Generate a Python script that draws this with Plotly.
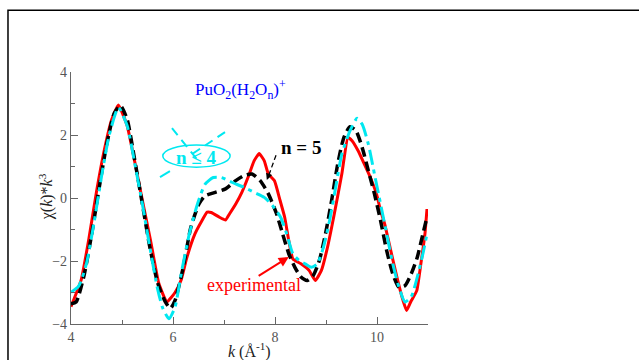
import plotly.graph_objects as go

# Experimental (red, solid)
k_exp = [4.0, 4.2, 4.35, 4.5, 4.65, 4.8, 4.93, 5.1, 5.25, 5.4, 5.56, 5.72, 5.88, 6.04, 6.16, 6.27,
         6.43, 6.55, 6.67, 6.75, 6.91, 7.03, 7.11, 7.23, 7.35, 7.47, 7.59, 7.69, 7.79, 7.87, 7.99,
         8.1, 8.19, 8.27, 8.35, 8.51, 8.67, 8.79, 8.91, 9.03, 9.15, 9.31, 9.43, 9.51, 9.63, 9.75,
         9.87, 9.99, 10.07, 10.15, 10.27, 10.39, 10.51, 10.58, 10.66, 10.78, 10.86, 10.94, 10.98]
chi_exp = [-3.45, -2.6, -1.3, 0.2, 1.5, 2.5, 2.95, 2.3, 1.15, -0.08, -1.35, -2.7, -3.3, -3.0, -2.6, -1.9,
           -1.14, -0.77, -0.45, -0.46, -0.61, -0.70, -0.5, -0.19, 0.18, 0.65, 1.18, 1.41, 1.18, 0.76, 0.55,
           -0.08, -0.61, -1.35, -1.93, -2.09, -2.3, -2.62, -2.3, -1.56, -0.61, 0.76, 1.92, 1.82, 1.5, 1.08,
           0.65, 0.13, -0.4, -0.82, -1.67, -2.51, -3.25, -3.57, -3.3, -2.94, -2.09, -1.14, -0.35]

# n = 5 (black, dashed)
k_n5 = [4.0, 4.1, 4.25, 4.4, 4.55, 4.7, 4.85, 4.97, 5.1, 5.25, 5.4, 5.55, 5.7, 5.85, 5.95, 6.04, 6.2,
        6.35, 6.51, 6.63, 6.83, 7.03, 7.23, 7.39, 7.55, 7.71, 7.87, 8.03, 8.15, 8.27, 8.39, 8.51,
        8.63, 8.75, 8.87, 8.99, 9.11, 9.23, 9.35, 9.47, 9.59, 9.71, 9.83, 9.95, 10.07, 10.19, 10.31,
        10.43, 10.55, 10.67, 10.79, 10.9, 10.98]
chi_n5 = [-3.36, -3.3, -2.5, -1.2, 0.3, 1.7, 2.7, 2.93, 2.5, 1.2, -0.2, -1.6, -2.7, -3.3, -3.5, -3.25, -2.2,
          -0.93, -0.19, 0.07, 0.18, 0.29, 0.55, 0.71, 0.76, 0.55, 0.13, -0.5, -1.14, -1.77, -2.2, -2.51,
          -2.62, -2.46, -1.98, -1.14, -0.08, 1.08, 1.92, 2.26, 2.13, 1.6, 0.87, 0.13, -0.72, -1.67, -2.41,
          -2.83, -2.78, -2.41, -1.88, -1.14, -0.61]

# n <= 4 (cyan, dash-dot)
k_n4 = [4.0, 4.15, 4.3, 4.45, 4.6, 4.75, 4.93, 5.1, 5.25, 5.4, 5.55, 5.7, 5.8, 5.92, 6.04, 6.16, 6.32,
        6.48, 6.63, 6.79, 6.95, 7.15, 7.39, 7.59, 7.79, 7.95, 8.11, 8.23, 8.35, 8.47, 8.59, 8.71,
        8.83, 8.95, 9.07, 9.19, 9.31, 9.47, 9.61, 9.71, 9.83, 9.95, 10.07, 10.19, 10.31, 10.43,
        10.55, 10.67, 10.79, 10.9, 10.98]
chi_n4 = [-2.99, -2.8, -2.1, -0.8, 0.7, 2.0, 2.87, 2.3, 1.1, -0.2, -1.6, -2.9, -3.5, -3.83, -3.46, -2.41, -1.14,
          -0.19, 0.44, 0.65, 0.65, 0.5, 0.34, 0.18, 0.02, -0.24, -0.61, -1.14, -1.77, -1.98, -2.09, -2.2,
          -2.09, -1.56, -0.72, 0.34, 1.39, 2.13, 2.53, 2.34, 1.71, 0.76, -0.19, -1.14, -2.09, -2.83,
          -3.3, -3.14, -2.51, -1.77, -1.14]

x_ticks = [4, 6, 8, 10]
y_ticks = [-4, -2, 0, 2, 4]

SERIF = "Liberation Serif, Times New Roman, serif"
CYAN = "#00e8f0"

fig = go.Figure()
fig.add_trace(go.Scatter(x=k_exp, y=chi_exp, mode="lines",
                         line=dict(color="#ff0000", width=3, shape="spline", smoothing=0.4)))
fig.add_trace(go.Scatter(x=k_n5, y=chi_n5, mode="lines",
                         line=dict(color="#000000", width=3.5, dash="10px,5px", shape="spline", smoothing=0.6)))
fig.add_trace(go.Scatter(x=k_n4, y=chi_n4, mode="lines",
                         line=dict(color=CYAN, width=3, dash="15px,5px,4px,5px", shape="spline", smoothing=0.6)))

axis_common = dict(showgrid=False, zeroline=False, showline=True, linecolor="#666666", linewidth=1.2,
                   ticks="inside", ticklen=7, tickwidth=1.2, tickcolor="#666666",
                   tickfont=dict(family=SERIF, size=14, color="#555555"),
                   minor=dict(ticks="inside", ticklen=4, tickwidth=1.2, tickcolor="#666666", dtick=1))

fig.update_xaxes(range=[4, 11], tickvals=x_ticks, **axis_common)
fig.update_yaxes(range=[-4, 4], tickvals=y_ticks, **axis_common)

shapes = [
    # outer frame
    dict(type="rect", xref="paper", yref="paper", x0=-0.1765, y0=-0.2, x1=1.62, y1=1.2455,
         line=dict(color="black", width=1.5)),
    # ellipse around n <= 4
    dict(type="circle", xref="x", yref="y", x0=5.80, x1=7.12, y0=0.98, y1=1.68,
         line=dict(color=CYAN, width=1.5)),
    # rays
    dict(type="line", xref="x", yref="y", x0=5.98, y0=2.215, x1=6.53, y1=1.11,
         line=dict(color=CYAN, width=2, dash="9px,6px")),
    dict(type="line", xref="x", yref="y", x0=7.02, y0=2.09, x1=6.37, y1=1.39,
         line=dict(color=CYAN, width=2, dash="9px,6px")),
    dict(type="line", xref="x", yref="y", x0=5.745, y0=0.665, x1=5.94, y1=0.854,
         line=dict(color=CYAN, width=2)),
    # n = 5 dashed pointer
    dict(type="line", xref="x", yref="y", x0=8.02, y0=1.36, x1=7.86, y1=0.64,
         line=dict(color="black", width=1.3, dash="5px,3px")),
]

annotations = [
    dict(x=6.39, y=3.45, xref="x", yref="y", xanchor="left", yanchor="middle", showarrow=False,
         text="PuO<sub>2</sub>(H<sub>2</sub>O<sub>n</sub>)<sup>+</sup>",
         font=dict(family=SERIF, size=17, color="#0000ff")),
    dict(x=6.46, y=1.30, xref="x", yref="y", xanchor="center", yanchor="middle", showarrow=False,
         text="<b>n ≤ 4</b>", font=dict(family=SERIF, size=19, color=CYAN)),
    dict(x=8.08, y=1.6, xref="x", yref="y", xanchor="left", yanchor="middle", showarrow=False,
         text="<b>n = 5</b>", font=dict(family=SERIF, size=19, color="black")),
    # arrowhead for n = 5 pointer
    dict(x=7.84, y=0.57, ax=7.87, ay=0.7, xref="x", yref="y", axref="x", ayref="y", text="",
         showarrow=True, arrowhead=2, arrowsize=1, arrowwidth=1.3, arrowcolor="black"),
    dict(x=6.63, y=-2.75, xref="x", yref="y", xanchor="left", yanchor="middle", showarrow=False,
         text="experimental", font=dict(family=SERIF, size=18, color="#ff0000")),
    dict(x=8.27, y=-1.87, ax=7.65, ay=-2.5, xref="x", yref="y", axref="x", ayref="y", text="",
         showarrow=True, arrowhead=2, arrowsize=1, arrowwidth=2, arrowcolor="#ff0000"),
    # axis titles
    dict(x=-0.07, y=0.503, xref="paper", yref="paper", xanchor="center", yanchor="middle",
         showarrow=False, textangle=-90,
         text="χ(<i>k</i>)*<i>k</i><sup>3</sup>", font=dict(family=SERIF, size=16, color="#222222")),
    dict(x=0.501, y=-0.107, xref="paper", yref="paper", xanchor="center", yanchor="middle",
         showarrow=False, text="<i>k</i> (Å<sup>-1</sup>)", font=dict(family=SERIF, size=16, color="#222222")),
]

fig.update_layout(width=639, height=360, margin=dict(l=71, r=211, t=71.5, b=36),
                  plot_bgcolor="white", paper_bgcolor="white", showlegend=False,
                  shapes=shapes, annotations=annotations)

fig.write_html("out.html")
